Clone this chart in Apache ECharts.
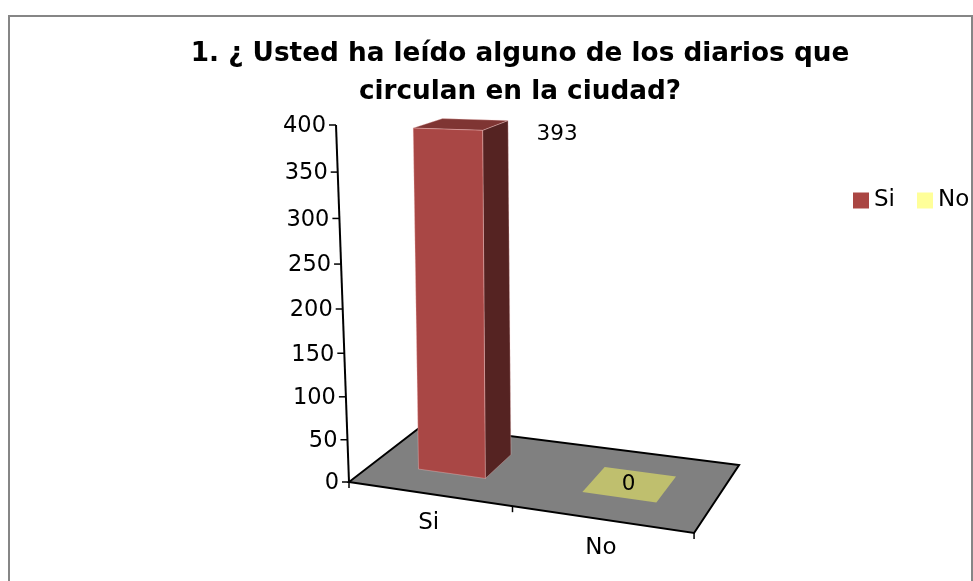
<!DOCTYPE html>
<html>
<head>
<meta charset="utf-8">
<style>
  html, body { margin: 0; padding: 0; background: #fff; }
  #chart { width: 973px; height: 581px; }
</style>
</head>
<body>
<div id="chart"></div>
<script src="https://cdn.jsdelivr.net/npm/echarts@6/dist/echarts.min.js"></script>
<script>
const titleLines = ['1. ¿ Usted ha leído alguno de los diarios que', 'circulan en la ciudad?'];
const categories = ['Si', 'No'];
const values = [393, 0];
const yTicks = [0, 50, 100, 150, 200, 250, 300, 350, 400];

const textFont = '"DejaVu Sans", sans-serif';
const faces = {
  Si: { front: '#A94745', side: '#552322', top: '#7F3533', legend: '#AA4643' },
  No: { front: '#BFBF6E', side: '#BFBF6E', top: '#BFBF6E', legend: '#FFFF99' }
};

// coeficientes de la homografia del piso: (u,v) del cuadrado unidad a pixeles
function floorPt(u, v) {
  const w = 1 - 0.0995 * u + 0.1059 * v;
  return {
    x: (276 * u + 118.8 * v + 349) / w,
    y: (-2 * u - 12 * v + 482) / w,
    w: w
  };
}
// fraccion de altura con la perspectiva del eje vertical
function warp(t0) {
  return t0 / (t0 + (1 - t0) * 1.0636);
}
// inclinacion de las verticales segun x
function lean(x) {
  return -13 + 0.109 * (x - 349) - 0.0005 * (x - 349) * (x - 417);
}
function raise(p, t) {
  return [p.x + lean(p.x) * t, p.y - (354 / p.w) * t];
}
function flat(p) {
  return [p.x, p.y];
}
function heightFrac(api, sys, val) {
  return warp((sys.y + sys.height - api.coord([0, val])[1]) / sys.height);
}

function renderFloor(params, api) {
  const A = floorPt(0, 0), B = floorPt(1, 0), C = floorPt(1, 1), D = floorPt(0, 1), mid = floorPt(0.5, 0);
  const edge = { stroke: '#000', lineWidth: 2 };
  const tick = function (p) {
    return { type: 'line', shape: { x1: p.x, y1: p.y, x2: p.x, y2: p.y + 6 }, style: { stroke: '#000', lineWidth: 1.5 } };
  };
  return {
    type: 'group',
    children: [
      { type: 'polygon', shape: { points: [flat(A), flat(B), flat(C), flat(D)] }, style: { fill: '#808080', stroke: '#000', lineWidth: 2 } },
      tick(A), tick(mid), tick(B),
      { type: 'line', shape: { x1: A.x, y1: A.y, x2: A.x - 13, y2: A.y - 357 }, style: edge }
    ]
  };
}

function renderYTick(params, api) {
  const sys = params.coordSys;
  const val = api.value(1);
  const t = heightFrac(api, sys, val);
  const x = 349 - 13 * t, y = 482 - 357 * t;
  return {
    type: 'group',
    children: [
      { type: 'line', shape: { x1: x - 7, y1: y, x2: x, y2: y }, style: { stroke: '#000', lineWidth: 1.5 } },
      { type: 'text', style: { x: x - 10, y: y + 1.5, text: String(val), align: 'right', verticalAlign: 'middle', fontSize: 22.5, fontFamily: textFont, fill: '#000' } }
    ]
  };
}

function renderBar(params, api) {
  const sys = params.coordSys;
  const idx = api.value(0);
  const val = api.value(1);
  const c = faces[categories[idx]];
  const band = api.size([1, 0])[0];
  const cx = api.coord([idx, 0])[0];
  const u0 = (cx - band * 0.21 - sys.x) / sys.width;
  const u1 = (cx + band * 0.21 - sys.x) / sys.width;
  const v0 = 0.315, v1 = 0.71;
  const fl = floorPt(u0, v0), fr = floorPt(u1, v0), br = floorPt(u1, v1), bl = floorPt(u0, v1);
  const t = heightFrac(api, sys, val);
  const line = val > 0 ? 'rgba(255,210,210,0.55)' : 'none';
  const kids = [];
  if (val > 0) {
    kids.push({ type: 'polygon', shape: { points: [flat(fr), flat(br), raise(br, t), raise(fr, t)] }, style: { fill: c.side, stroke: line, lineWidth: 0.6 } });
  }
  kids.push({ type: 'polygon', shape: { points: [raise(fl, t), raise(fr, t), raise(br, t), raise(bl, t)] }, style: { fill: c.top, stroke: line, lineWidth: 0.6 } });
  if (val > 0) {
    kids.push({ type: 'polygon', shape: { points: [flat(fl), flat(fr), raise(fr, t), raise(fl, t)] }, style: { fill: c.front, stroke: line, lineWidth: 0.6 } });
  }
  // etiqueta de valor y de categoria
  const mid = floorPt((u0 + u1) / 2, (v0 + v1) / 2);
  const top = raise(mid, t);
  kids.push({ type: 'text', style: { x: top[0] + (val > 0 ? 95 : -1), y: top[1] + (val > 0 ? 10 : 0), text: String(val), align: 'center', verticalAlign: 'middle', fontSize: 21.5, fontFamily: textFont, fill: '#000' } });
  const under = floorPt((cx - sys.x) / sys.width, 0);
  kids.push({ type: 'text', style: { x: under.x, y: under.y + 29, text: categories[idx], align: 'center', verticalAlign: 'middle', fontSize: 23, fontFamily: textFont, fill: '#000' } });
  return { type: 'group', children: kids };
}

const myechart = echarts.init(document.getElementById('chart'), null, { renderer: 'canvas' });
const option = {
  animation: false,
  backgroundColor: '#fff',
  title: {
    text: titleLines.join('\n'),
    left: 515,
    top: 30,
    textAlign: 'center',
    textStyle: { fontFamily: textFont, fontWeight: 'bold', fontSize: 26.3, lineHeight: 38, color: '#000' }
  },
  legend: {
    data: categories,
    orient: 'horizontal',
    left: 853,
    top: 189,
    padding: 0,
    itemWidth: 16,
    itemHeight: 16,
    itemGap: 22,
    icon: 'rect',
    selectedMode: false,
    textStyle: { fontFamily: textFont, fontSize: 23, color: '#000' }
  },
  grid: { left: 349, top: 125, width: 345, height: 357 },
  xAxis: { type: 'category', data: categories, show: false },
  yAxis: { type: 'value', min: 0, max: 400, interval: 50, show: false },
  graphic: [{
    type: 'rect',
    z: 100,
    silent: true,
    shape: { x: 9, y: 16, width: 963, height: 620 },
    style: { fill: 'none', stroke: '#868686', lineWidth: 2 }
  }],
  series: [
    { name: 'piso', type: 'custom', silent: true, z: 1, data: [[0, 0]], renderItem: renderFloor },
    { name: 'eje', type: 'custom', silent: true, z: 2, data: yTicks.map(v => [0, v]), renderItem: renderYTick },
    { name: categories[1], type: 'custom', silent: true, z: 3, itemStyle: { color: faces.No.legend }, data: [[1, values[1]]], renderItem: renderBar },
    { name: categories[0], type: 'custom', silent: true, z: 4, itemStyle: { color: faces.Si.legend }, data: [[0, values[0]]], renderItem: renderBar }
  ]
};
myechart.setOption(option);
</script>
</body>
</html>
